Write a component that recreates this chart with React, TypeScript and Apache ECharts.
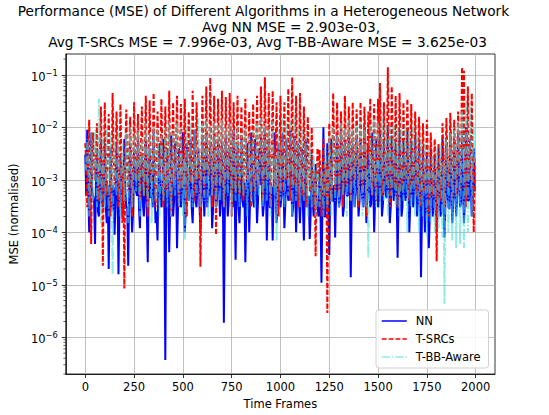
import React, { useEffect, useRef } from 'react';
import * as echarts from 'echarts';

const FONT = 'DejaVu Sans, sans-serif';
const TITLE_LINES = [
  'Performance (MSE) of Different Algorithms in a Heterogeneous Network',
  'Avg NN MSE = 2.903e-03,',
  'Avg T-SRCs MSE = 7.996e-03, Avg T-BB-Aware MSE = 3.625e-03',
];
const SERIES_NAMES = ['NN', 'T-SRCs', 'T-BB-Aware'];
const FRAME_STEP = 10; // main samples at frames 0,10,20,...; mid samples at 5,15,25,...
const X_TICKS = [0, 250, 500, 750, 1000, 1250, 1500, 1750, 2000];

const nnMSE = [
  3e-3, 9e-3, 1e-4, 8e-3, 5e-4, 6e-5, 4e-3, 2e-4, 6e-3, 3e-4,
  5e-3, 1.5e-4, 2e-5, 4e-3, 8e-4, 9e-5, 5e-3, 1.6e-5, 3e-3, 2e-4,
  6e-3, 3e-4, 2.3e-5, 5e-3, 1e-4, 4e-3, 6e-4, 7e-3, 1.2e-4, 3e-3,
  2e-4, 6e-3, 2.7e-5, 4e-3, 5e-4, 8e-3, 1.5e-4, 7e-5, 5e-3, 3e-4,
  6e-3, 3.7e-7, 4e-3, 4.2e-5, 7e-3, 2e-4, 5e-3, 5e-5, 4e-3, 3e-4,
  8e-3, 1e-4, 5e-3, 4e-4, 6e-3, 1.5e-4, 9e-3, 3e-4, 4e-3, 1e-4,
  6e-3, 2e-4, 8e-3, 5e-4, 5e-3, 1.2e-4, 7e-3, 3e-4, 6e-3, 2e-4,
  5e-3, 1.9e-6, 7e-3, 2e-4, 4e-3, 6e-4, 9e-3, 3e-5, 5e-3, 1.5e-4,
  6e-3, 3e-4, 2.7e-5, 5e-3, 1e-4, 8e-3, 4e-4, 6e-3, 1.5e-4, 4e-3,
  7e-3, 2e-4, 9e-3, 7e-5, 6e-3, 3e-4, 7e-5, 8e-3, 1.5e-4, 5e-3,
  3e-4, 8e-3, 1.2e-4, 6e-3, 4e-4, 9e-3, 2e-4, 7e-3, 1e-4, 5e-3,
  1.5e-4, 4e-3, 7e-5, 6e-3, 3e-4, 7.5e-5, 3e-3, 2e-4, 2e-3, 3e-4,
  1.5e-3, 1.1e-5, 1e-2, 2e-4, 5e-3, 3.7e-5, 6e-3, 4e-4, 8e-5, 7e-3,
  3e-4, 9e-3, 2e-4, 6e-3, 5e-4, 8e-3, 1.4e-5, 5e-3, 3e-4, 7e-3,
  2e-4, 6e-3, 4e-4, 1e-2, 1.5e-4, 5e-3, 3e-4, 8e-3, 1e-4, 6e-3,
  3e-4, 9e-3, 2e-4, 6e-3, 5e-4, 1e-2, 1.5e-4, 7e-3, 4e-4, 5e-3,
  3.3e-5, 8e-3, 2e-4, 6e-3, 4e-4, 9e-3, 1e-4, 5e-3, 3e-4, 7e-3,
  2e-4, 5e-3, 1.4e-5, 4e-3, 1e-4, 3e-3, 5e-5, 4e-3, 2e-4, 3e-3,
  1e-4, 4e-3, 2e-4, 6e-3, 8e-5, 5e-3, 3e-4, 8e-3, 1.5e-4, 6e-3,
  2e-4, 9e-3, 3e-4, 7e-3, 1.5e-4, 1e-2, 4e-4, 6e-3, 2e-4, 4e-3,
];
const nnMSEMid = [
  5e-4, 8e-4, 3e-4, 6e-4, 4e-4, 1e-3, 2.5e-4, 7e-4, 4e-4, 6e-4,
  3e-4, 8e-4, 4.5e-4, 2.5e-4, 7e-4, 3.5e-4, 9e-4, 3e-4, 5e-4, 4e-4,
  6.5e-4, 3e-4, 8.5e-4, 4e-4, 2.5e-4, 7.5e-4, 5e-4, 3e-4, 1e-3, 3.5e-4,
  5e-4, 3e-4, 8e-4, 4.5e-4, 3e-4, 7e-4, 2.5e-4, 9e-4, 4e-4, 6e-4,
  3.5e-4, 8e-4, 5e-4, 3e-4, 7e-4, 4e-4, 1e-3, 3e-4, 5.5e-4, 4.5e-4,
  7.5e-4, 3e-4, 5e-4, 9e-4, 3e-4, 6.5e-4, 4e-4, 1e-3, 3.5e-4, 5e-4,
  6e-4, 9e-4, 3e-4, 5e-4, 8e-4, 3e-4, 7e-4, 4.5e-4, 1e-3, 3.5e-4,
  5e-4, 2.5e-4, 7.5e-4, 4e-4, 1e-3, 3e-4, 5.5e-4, 8.5e-4, 3e-4, 6.5e-4,
  4e-4, 9e-4, 3e-4, 6e-4, 5e-4, 1.1e-3, 3e-4, 7e-4, 4e-4, 8e-4,
  5.5e-4, 3.5e-4, 1e-3, 4.5e-4, 3e-4, 7.5e-4, 5e-4, 9e-4, 3e-4, 6.5e-4,
  5e-4, 1e-3, 3.5e-4, 7e-4, 4.5e-4, 1.1e-3, 3e-4, 8e-4, 5e-4, 4e-4,
  6e-4, 3e-4, 7e-4, 3.5e-4, 5e-4, 2.5e-4, 4e-4, 3e-4, 2.8e-4, 2e-4,
  2.5e-4, 3.5e-4, 2e-4, 5e-4, 3e-4, 6.5e-4, 4e-4, 8e-4, 5e-4, 7e-4,
  4.5e-4, 9e-4, 3e-4, 6.5e-4, 5e-4, 1e-3, 3.5e-4, 7e-4, 5.5e-4, 8.5e-4,
  4e-4, 7.5e-4, 3e-4, 9.5e-4, 5e-4, 6.5e-4, 3.5e-4, 9e-4, 4.5e-4, 7e-4,
  5e-4, 1e-3, 3.5e-4, 7e-4, 4.5e-4, 1.2e-3, 3e-4, 8e-4, 5.5e-4, 6.5e-4,
  4e-4, 9e-4, 3e-4, 7e-4, 5e-4, 1e-3, 3.5e-4, 6e-4, 4.5e-4, 8e-4,
  3.5e-4, 6.5e-4, 2.5e-4, 5e-4, 3e-4, 5.5e-4, 2e-4, 4.5e-4, 2.8e-4, 4e-4,
  3e-4, 5e-4, 2.5e-4, 7e-4, 3.5e-4, 6e-4, 2.8e-4, 8e-4, 4e-4, 7e-4,
  5e-4, 1e-3, 3.5e-4, 8e-4, 4.5e-4, 1.1e-3, 4e-4, 7.5e-4, 5e-4, 6e-4,
];

const tsrcsMSE = [
  5e-3, 3e-4, 1.4e-2, 6e-5, 8e-3, 1e-3, 1.2e-2, 4e-4, 2.5e-2, 2.3e-5,
  3e-2, 5e-4, 1.8e-2, 2e-4, 4.5e-2, 8e-4, 2e-2, 3e-4, 2.8e-2, 1.5e-4,
  8.5e-6, 2.2e-2, 6e-4, 1.6e-2, 2e-4, 3e-2, 1e-3, 1.8e-2, 4e-4, 2.5e-2,
  5e-4, 4e-2, 2e-4, 3.3e-2, 9e-4, 4.5e-2, 3e-4, 2e-2, 1.2e-3, 3.5e-2,
  3e-4, 2.5e-2, 6e-4, 5e-2, 2e-4, 3e-2, 1e-3, 4e-2, 3e-4, 2.8e-2,
  7e-4, 3.5e-2, 2e-4, 2e-2, 9e-4, 5e-2, 4e-4, 3e-2, 1e-3, 2.2e-5,
  4e-2, 5e-4, 6e-2, 1.2e-3, 8.8e-2, 3e-4, 4e-2, 9e-5, 3.5e-2, 8e-4,
  5e-2, 3e-4, 3.8e-2, 1e-3, 4.5e-2, 2e-4, 3e-2, 6e-4, 4e-2, 5e-4,
  2.5e-2, 4e-4, 3.5e-2, 1e-3, 2e-2, 3e-4, 2.8e-2, 6e-4, 4e-2, 8e-4,
  6e-2, 4e-4, 9e-2, 1e-3, 4.5e-2, 3e-4, 5e-2, 7e-4, 3e-2, 2e-4,
  4e-2, 6e-4, 3e-2, 1e-3, 5.5e-2, 4e-4, 9e-2, 8e-4, 4e-2, 3e-4,
  4.5e-2, 5e-4, 2.5e-2, 3e-4, 1.6e-2, 6e-4, 1e-2, 3e-4, 3.5e-5, 4e-3,
  3.7e-3, 2e-4, 6e-3, 5e-4, 2.9e-6, 1.2e-2, 4e-4, 4.5e-2, 6e-4, 3e-2,
  5e-4, 2e-2, 3e-4, 4e-2, 8e-4, 2.5e-2, 4e-4, 3e-2, 1e-3, 2.2e-2,
  3e-4, 3e-2, 6e-4, 2.5e-2, 2e-4, 2e-2, 3.6e-2, 5e-4, 2.8e-2, 4e-4,
  3.5e-2, 7e-2, 5e-4, 3e-2, 8e-4, 1.4e-1, 3e-4, 6e-2, 7e-4, 4e-2,
  3e-4, 4.5e-2, 6e-4, 3e-2, 1e-3, 3.5e-2, 4e-4, 2.8e-2, 8e-4, 2e-2,
  5e-4, 1.6e-2, 3e-4, 1.2e-2, 6e-4, 1.4e-2, 2e-4, 8e-3, 5e-4, 6e-3,
  2.8e-5, 5e-3, 4e-4, 1.2e-2, 3e-4, 1.5e-2, 7e-4, 1.9e-2, 4e-4, 1.4e-2,
  5e-4, 2e-2, 6e-4, 1.4e-1, 1.2e-1, 3e-4, 6e-2, 1e-3, 4.5e-2, 1e-4,
];
const tsrcsMSEMid = [
  2e-3, 3.5e-3, 1.2e-3, 2.8e-3, 1.6e-3, 4e-3, 1e-3, 3e-3, 1.8e-3, 2.4e-3,
  1.4e-3, 3.6e-3, 2e-3, 1.1e-3, 3e-3, 1.7e-3, 4.2e-3, 1.3e-3, 2.6e-3, 1.9e-3,
  2.9e-3, 1.5e-3, 3.8e-3, 1.8e-3, 1.1e-3, 3.4e-3, 2.2e-3, 1.3e-3, 4.4e-3, 1.6e-3,
  2.5e-3, 1.3e-3, 3.7e-3, 2e-3, 1.5e-3, 3.1e-3, 1.1e-3, 4.2e-3, 1.9e-3, 2.7e-3,
  1.7e-3, 3.6e-3, 2.2e-3, 1.3e-3, 3.3e-3, 1.9e-3, 4.6e-3, 1.5e-3, 2.6e-3, 2e-3,
  3.5e-3, 1.5e-3, 2.4e-3, 4e-3, 1.3e-3, 2.9e-3, 1.8e-3, 4.8e-3, 1.6e-3, 2.2e-3,
  2.8e-3, 4.2e-3, 1.5e-3, 2.2e-3, 3.7e-3, 1.3e-3, 3.1e-3, 2e-3, 4.4e-3, 1.7e-3,
  2.4e-3, 1.1e-3, 3.5e-3, 1.8e-3, 4.8e-3, 1.5e-3, 2.6e-3, 3.9e-3, 1.3e-3, 2.9e-3,
  1.8e-3, 4e-3, 1.3e-3, 2.8e-3, 2.2e-3, 5e-3, 1.5e-3, 3.3e-3, 1.8e-3, 3.7e-3,
  2.6e-3, 1.7e-3, 4.6e-3, 2e-3, 1.3e-3, 3.5e-3, 2.4e-3, 4.2e-3, 1.5e-3, 2.9e-3,
  2.2e-3, 4.4e-3, 1.7e-3, 3.1e-3, 2e-3, 5.2e-3, 1.5e-3, 3.7e-3, 2.4e-3, 1.8e-3,
  2.8e-3, 1.3e-3, 3.3e-3, 1.7e-3, 2.2e-3, 1.1e-3, 1.8e-3, 1.5e-3, 1.2e-3, 9e-4,
  1.1e-3, 1.6e-3, 9e-4, 2.2e-3, 1.5e-3, 2.9e-3, 1.8e-3, 3.7e-3, 2.4e-3, 3.3e-3,
  2e-3, 4.2e-3, 1.5e-3, 2.9e-3, 2.2e-3, 4.8e-3, 1.7e-3, 3.3e-3, 2.6e-3, 3.9e-3,
  1.8e-3, 3.5e-3, 1.3e-3, 4.4e-3, 2.2e-3, 2.9e-3, 1.7e-3, 4e-3, 2e-3, 3.1e-3,
  2.4e-3, 4.8e-3, 1.7e-3, 3.3e-3, 2e-3, 5.3e-3, 1.5e-3, 3.7e-3, 2.6e-3, 2.9e-3,
  1.8e-3, 4e-3, 1.5e-3, 3.1e-3, 2.4e-3, 4.6e-3, 1.7e-3, 2.8e-3, 2e-3, 3.7e-3,
  1.7e-3, 2.9e-3, 1.1e-3, 2.2e-3, 1.5e-3, 2.6e-3, 9e-4, 2e-3, 1.3e-3, 1.8e-3,
  1.5e-3, 2.4e-3, 1.1e-3, 3.1e-3, 1.7e-3, 2.8e-3, 1.3e-3, 3.7e-3, 1.8e-3, 3.3e-3,
  2.2e-3, 4.6e-3, 1.7e-3, 3.7e-3, 2e-3, 5.1e-3, 1.8e-3, 3.5e-3, 2.4e-3, 2.8e-3,
];

const tbbMSE = [
  2e-3, 6e-3, 2e-4, 8e-3, 4e-4, 9e-3, 3e-4, 3.5e-2, 1.5e-4, 7e-3,
  3e-4, 1e-2, 2e-4, 8e-3, 1.6e-5, 6e-3, 5e-4, 9e-3, 2e-4, 5e-3,
  4e-4, 8e-3, 1.5e-4, 1e-2, 3e-4, 7e-3, 6e-4, 9e-3, 2e-4, 6e-3,
  5e-4, 1.2e-2, 3e-4, 8e-3, 1.5e-4, 1e-2, 4e-4, 9e-3, 2e-4, 7e-3,
  4e-4, 1e-2, 3e-4, 1.3e-2, 2e-4, 8e-3, 5e-4, 1.2e-2, 3e-4, 9e-3,
  2e-4, 7e-5, 1e-2, 4e-4, 1.2e-2, 3e-4, 9e-3, 5e-4, 1.5e-2, 3e-4,
  1.2e-2, 4e-4, 1.5e-2, 2e-4, 1e-2, 5e-4, 1.3e-2, 3e-4, 1.1e-2, 4e-4,
  1.4e-2, 3e-4, 1e-2, 5e-4, 1.2e-2, 2e-4, 9e-3, 4e-4, 1.1e-2, 3e-4,
  8e-3, 5e-4, 1e-2, 2e-4, 7e-3, 4e-4, 9e-3, 3e-4, 1.2e-2, 5e-4,
  1.5e-2, 3e-4, 1.2e-2, 4e-4, 1e-2, 2e-4, 1.3e-2, 5e-4, 7e-5, 9e-3,
  4e-4, 1.5e-2, 3e-4, 1.2e-2, 5e-4, 1.4e-2, 2e-4, 1.6e-2, 4e-4, 1e-2,
  3e-4, 9e-3, 4e-4, 7e-3, 2e-4, 5e-3, 3e-4, 3e-3, 2e-4, 2e-3,
  3e-4, 1.5e-3, 2e-4, 4e-3, 3e-4, 7e-3, 2e-4, 1e-2, 4e-4, 8e-3,
  3e-4, 1.2e-2, 5e-4, 1e-2, 2e-4, 1.4e-2, 4e-4, 9e-3, 3e-4, 1.1e-2,
  4e-4, 1.3e-2, 2e-4, 1e-2, 3e-4, 3.3e-5, 1.2e-2, 5e-4, 1.5e-2, 3e-4,
  1.2e-2, 3e-4, 1.6e-2, 4e-4, 1.3e-2, 2e-4, 1e-2, 5e-4, 1.2e-2, 3e-4,
  1e-2, 2e-4, 1.4e-2, 4e-4, 1.1e-2, 1e-4, 9e-3, 3e-4, 1.2e-2, 2e-4,
  8e-3, 1e-4, 6e-3, 2e-4, 5e-3, 8e-5, 4e-3, 1.5e-4, 3e-3, 1e-4,
  4e-3, 1.2e-4, 5e-3, 8e-5, 4.3e-6, 6e-3, 1e-4, 8e-3, 7e-5, 1e-2,
  5e-5, 1.2e-2, 6e-5, 2e-2, 5e-5, 3e-2, 1e-4, 2.5e-2, 2e-4, 1e-2,
];
const tbbMSEMid = [
  1.5e-3, 2.6e-3, 9e-4, 2e-3, 1.2e-3, 3e-3, 8e-4, 2.2e-3, 1.3e-3, 1.8e-3,
  1e-3, 2.7e-3, 1.5e-3, 8e-4, 2.2e-3, 1.3e-3, 3.1e-3, 1e-3, 1.9e-3, 1.4e-3,
  2.1e-3, 1.1e-3, 2.8e-3, 1.3e-3, 8e-4, 2.5e-3, 1.6e-3, 1e-3, 3.2e-3, 1.2e-3,
  1.8e-3, 1e-3, 2.7e-3, 1.5e-3, 1.1e-3, 2.3e-3, 8e-4, 3.1e-3, 1.4e-3, 2e-3,
  1.3e-3, 2.6e-3, 1.6e-3, 1e-3, 2.4e-3, 1.4e-3, 3.4e-3, 1.1e-3, 1.9e-3, 1.5e-3,
  2.6e-3, 1.1e-3, 1.8e-3, 2.9e-3, 1e-3, 2.1e-3, 1.3e-3, 3.5e-3, 1.2e-3, 1.6e-3,
  2e-3, 3.1e-3, 1.1e-3, 1.6e-3, 2.7e-3, 1e-3, 2.3e-3, 1.5e-3, 3.2e-3, 1.2e-3,
  1.8e-3, 8e-4, 2.6e-3, 1.3e-3, 3.5e-3, 1.1e-3, 1.9e-3, 2.9e-3, 1e-3, 2.1e-3,
  1.3e-3, 2.9e-3, 1e-3, 2.1e-3, 1.6e-3, 3.6e-3, 1.1e-3, 2.4e-3, 1.3e-3, 2.7e-3,
  1.9e-3, 1.2e-3, 3.4e-3, 1.5e-3, 1e-3, 2.6e-3, 1.8e-3, 3.1e-3, 1.1e-3, 2.1e-3,
  1.6e-3, 3.2e-3, 1.2e-3, 2.3e-3, 1.5e-3, 3.8e-3, 1.1e-3, 2.7e-3, 1.8e-3, 1.3e-3,
  2e-3, 1e-3, 2.4e-3, 1.2e-3, 1.6e-3, 8e-4, 1.3e-3, 1.1e-3, 9e-4, 7e-4,
  8e-4, 1.2e-3, 7e-4, 1.6e-3, 1.1e-3, 2.1e-3, 1.3e-3, 2.7e-3, 1.8e-3, 2.4e-3,
  1.5e-3, 3.1e-3, 1.1e-3, 2.1e-3, 1.6e-3, 3.5e-3, 1.2e-3, 2.4e-3, 1.9e-3, 2.8e-3,
  1.3e-3, 2.6e-3, 1e-3, 3.2e-3, 1.6e-3, 2.1e-3, 1.2e-3, 2.9e-3, 1.5e-3, 2.3e-3,
  1.8e-3, 3.5e-3, 1.2e-3, 2.4e-3, 1.5e-3, 3.9e-3, 1.1e-3, 2.7e-3, 1.9e-3, 2.1e-3,
  1.3e-3, 2.9e-3, 1.1e-3, 2.3e-3, 1.8e-3, 3.4e-3, 1.2e-3, 2e-3, 1.5e-3, 2.7e-3,
  1.2e-3, 2.1e-3, 8e-4, 1.6e-3, 1.1e-3, 1.9e-3, 7e-4, 1.5e-3, 9e-4, 1.3e-3,
  1.1e-3, 1.8e-3, 8e-4, 2.3e-3, 1.2e-3, 2e-3, 9e-4, 2.7e-3, 1.3e-3, 2.4e-3,
  1.6e-3, 3.4e-3, 1.2e-3, 2.7e-3, 1.5e-3, 3.7e-3, 1.3e-3, 2.6e-3, 1.8e-3, 2e-3,
];

const MINOR_MANTISSAS = [2, 3, 4, 5, 6, 7, 8, 9];
const MINOR_EXPONENTS = [-7, -6, -5, -4, -3, -2, -1];
const Y_MIN = 2e-7;
const Y_MAX = 0.25;
const X_MIN = -100;
const X_MAX = 2099;
const LINE_W = 2;

const toPairs = (main: number[], mid: number[]) => {
  const out: number[][] = [];
  main.forEach((v, i) => {
    out.push([i * FRAME_STEP, v]);
    out.push([i * FRAME_STEP + FRAME_STEP / 2, mid[i]]);
  });
  return out;
};

export default function App() {
  const ref = useRef<HTMLDivElement>(null);
  useEffect(() => {
    if (!ref.current) return;
    const chart = echarts.init(ref.current, undefined, { renderer: 'svg' });
    const minorVals: number[][] = [];
    MINOR_EXPONENTS.forEach((e) =>
      MINOR_MANTISSAS.forEach((m) => {
        const v = m * Math.pow(10, e);
        if (v >= Y_MIN && v <= Y_MAX) minorVals.push([X_MIN, v]);
      })
    );
    const axisText = { fontFamily: FONT, fontSize: 11.5, color: '#000' };
    const option: any = {
      animation: false,
      backgroundColor: '#fff',
      graphic: [
        { type: 'text', x: 263.5, y: 4, style: { text: TITLE_LINES[0], textAlign: 'center', textVerticalAlign: 'top', font: `13.7px ${FONT}`, fill: '#000' } },
        { type: 'text', x: 291, y: 19.5, style: { text: TITLE_LINES[1], textAlign: 'center', textVerticalAlign: 'top', font: `13.7px ${FONT}`, fill: '#000' } },
        { type: 'text', x: 267.5, y: 35, style: { text: TITLE_LINES[2], textAlign: 'center', textVerticalAlign: 'top', font: `13.7px ${FONT}`, fill: '#000' } },
      ],
      grid: { left: 64, top: 54, width: 431, height: 320, show: true, borderColor: '#000', borderWidth: 0.8, backgroundColor: 'transparent' },
      legend: {
        data: SERIES_NAMES,
        orient: 'vertical',
        left: 376,
        top: 310,
        itemWidth: 25,
        itemHeight: 10,
        itemGap: 6,
        itemStyle: { opacity: 0 },
        lineStyle: { width: 1.5 },
        textStyle: { ...axisText, padding: [0, 0, 0, 4] },
        backgroundColor: 'rgba(255,255,255,0.85)',
        borderColor: '#d0d0d0',
        borderWidth: 1,
        borderRadius: 3,
        padding: [5, 8, 5, 5],
      },
      xAxis: {
        type: 'value',
        min: X_MIN,
        max: X_MAX,
        name: 'Time Frames',
        nameLocation: 'middle',
        nameGap: 24,
        nameTextStyle: axisText,
        axisLine: { show: true, onZero: false, lineStyle: { color: '#000', width: 0.8 } },
        axisTick: { show: true, inside: false, length: 4, customValues: X_TICKS, lineStyle: { color: '#000', width: 0.8 } },
        axisLabel: { ...axisText, margin: 7, customValues: X_TICKS, formatter: (v: number) => String(v) },
        splitLine: { show: true, lineStyle: { color: '#b0b0b0', width: 0.8 } },
      },
      yAxis: {
        type: 'log',
        logBase: 10,
        min: Y_MIN,
        max: Y_MAX,
        name: 'MSE (normalised)',
        nameLocation: 'middle',
        nameGap: 44,
        nameTextStyle: axisText,
        axisLine: { show: true, onZero: false, lineStyle: { color: '#000', width: 0.8 } },
        axisTick: { show: true, inside: false, length: 4, lineStyle: { color: '#000', width: 0.8 } },
        axisLabel: {
          margin: 8,
          showMinLabel: false,
          showMaxLabel: false,
          formatter: (v: number) => {
            const l = Math.log10(v);
            const e = Math.round(l);
            if (Math.abs(l - e) > 1e-6) return '';
            return `{b|10}{s|\u2212${-e}}`;
          },
          rich: {
            b: { fontFamily: FONT, fontSize: 11.5, color: '#000', verticalAlign: 'bottom', lineHeight: 16 },
            s: { fontFamily: FONT, fontSize: 8.3, color: '#000', verticalAlign: 'bottom', lineHeight: 16, padding: [0, 0, 6, 0] },
          },
        },
        splitLine: { show: true, showMinLine: false, showMaxLine: false, lineStyle: { color: '#b0b0b0', width: 0.8 } },
      },
      series: [
        {
          name: 'NN', type: 'line', data: toPairs(nnMSE, nnMSEMid), showSymbol: false, symbol: 'none',
          color: '#0000ff', lineStyle: { color: '#0000ff', width: LINE_W }, z: 2,
        },
        {
          name: 'T-SRCs', type: 'line', data: toPairs(tsrcsMSE, tsrcsMSEMid), showSymbol: false, symbol: 'none',
          color: '#ff0000', lineStyle: { color: '#ff0000', width: LINE_W, type: [4.8, 2.1] }, z: 3,
        },
        {
          name: 'T-BB-Aware', type: 'line', data: toPairs(tbbMSE, tbbMSEMid), showSymbol: false, symbol: 'none',
          color: '#40e0d0', lineStyle: { color: '#40e0d0', width: LINE_W, type: [8.2, 2.1, 1.3, 2.1], opacity: 0.6 }, z: 4,
        },
        {
          name: 'minorTicks', type: 'custom', silent: true, clip: false, z: 10,
          data: minorVals,
          renderItem: (_p: any, api: any) => {
            const pt = api.coord([api.value(0), api.value(1)]);
            return { type: 'line', shape: { x1: pt[0] - 2.4, y1: pt[1], x2: pt[0], y2: pt[1] }, style: { stroke: '#000', lineWidth: 0.6 } };
          },
        },
      ],
    };
    chart.setOption(option);
    return () => chart.dispose();
  }, []);
  return <div ref={ref} style={{ position: 'fixed', left: 0, top: 0, width: 549, height: 415 }} />;
}
